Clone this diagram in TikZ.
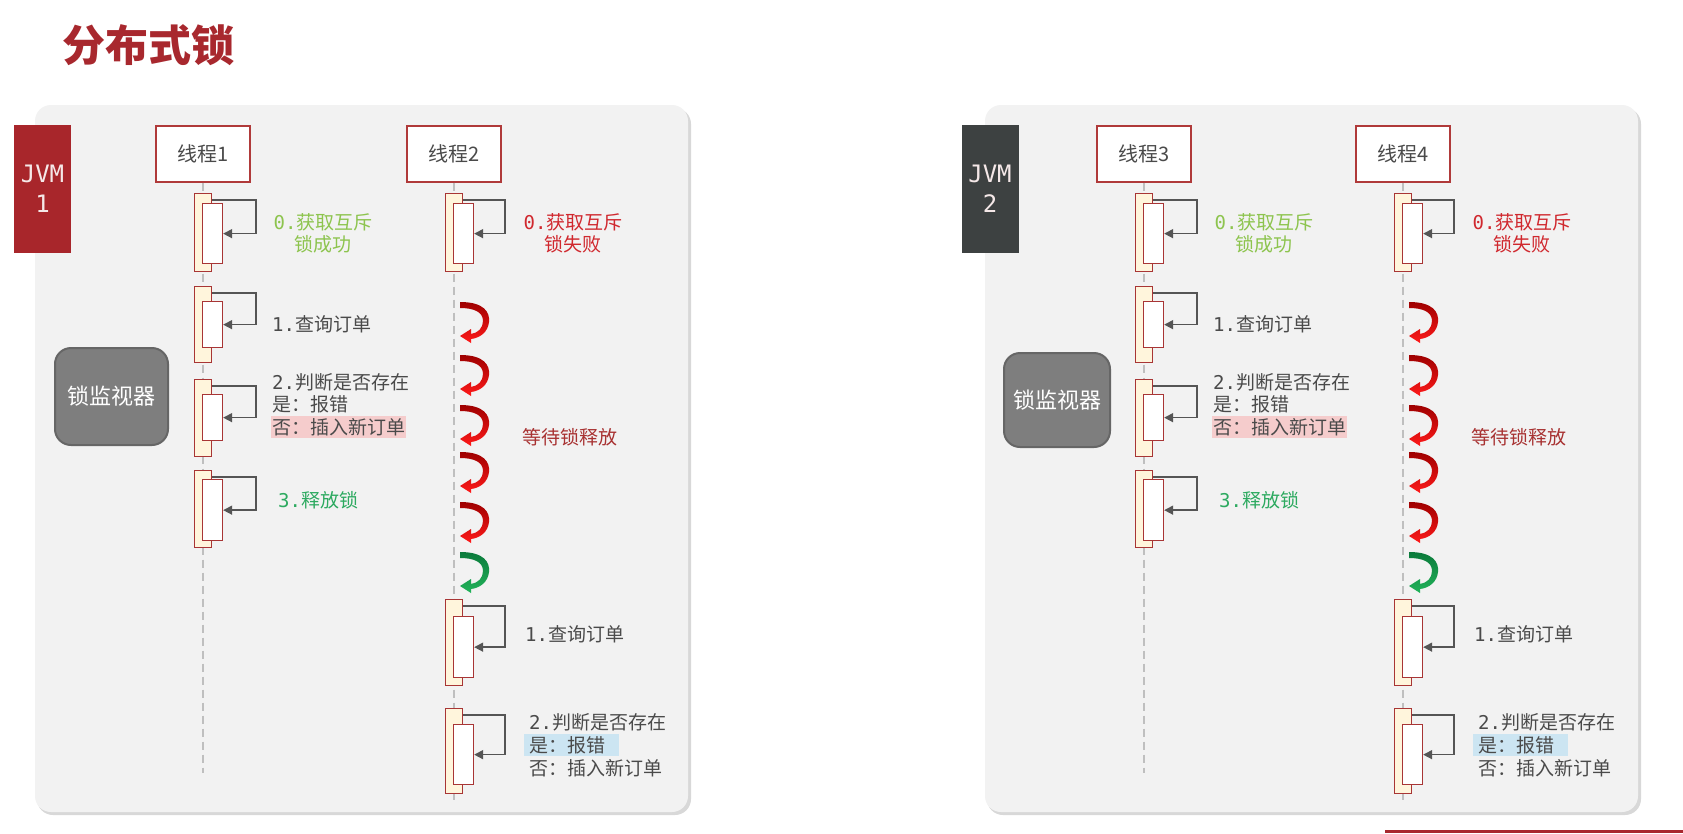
\documentclass[tikz,border=0pt]{standalone}
\usepackage{fontspec}
\setmainfont{Noto Sans CJK SC}
\newfontfamily\mono{DejaVu Sans Mono}
\usetikzlibrary{arrows.meta}
\definecolor{panelc}{HTML}{F2F2F2}
\definecolor{shadowc}{HTML}{D8D8D8}
\definecolor{boxred}{HTML}{B03A3A}
\definecolor{barred}{HTML}{A83535}
\definecolor{cream}{HTML}{FFF5DC}
\definecolor{arrgray}{HTML}{555555}
\definecolor{lifegray}{HTML}{BFBFBF}
\definecolor{txtgray}{HTML}{4A4A4A}
\definecolor{litegreen}{HTML}{8DC44E}
\definecolor{darkgreen}{HTML}{2DAA60}
\definecolor{failred}{HTML}{D0282E}
\definecolor{waitred}{HTML}{A83232}
\definecolor{pinkhl}{HTML}{F5CCCC}
\definecolor{bluehl}{HTML}{CCE5F2}
\definecolor{titlered}{HTML}{A8282E}
\definecolor{jvmred}{HTML}{A8262B}
\definecolor{jvmgray}{HTML}{3D4141}
\definecolor{jvmtxt}{HTML}{F5E8E8}
\definecolor{monfill}{HTML}{7E7E7E}
\definecolor{monedge}{HTML}{666666}
\definecolor{arrdark}{HTML}{9E0000}
\definecolor{arrlight}{HTML}{FF1A1A}
\definecolor{grndark}{HTML}{0B7A3B}
\definecolor{grnlight}{HTML}{22B35A}

\newcommand\actbar[7]{%
  \node[outerbar, minimum height={#4-#3}, anchor=north] (#1o) at (#2,#3) {};
  \node[innerbar, minimum height={#6-#5}, anchor=north] (#1i) at (#2+9.5,#5) {};
  \draw[selfarrow] ([yshift=-7pt]#1o.north east) -| ([xshift=#7pt]#1i.east) -- (#1i.east);
}
\newcommand\waitarr[4]{%
  \shade[top color=#3, bottom color=#4, shift={(#1,#2)}]
    (0,0) .. controls (24,0) and (30,10) .. (29,20)
    .. controls (28,30) and (20,36) .. (11,37)
    -- (11,41) -- (0,34) -- (11,27) -- (11,32)
    .. controls (18,31) and (23,26) .. (23,19)
    .. controls (23,10) and (14,6) .. (0,6) -- cycle;
}
\newcommand\lanes[5]{%
  % ---- thread A
  \node[thread] (#1tA) at (#2,154) {#4};
  \coordinate (#1eA) at (#2,773);
  \draw[lifeline] (#1tA) -- (#1eA);
  \actbar{#1a0}{#2}{193}{271}{203}{263}{33}
  \actbar{#1a1}{#2}{286}{362}{301}{347}{33}
  \actbar{#1a2}{#2}{379}{456}{394}{440}{33}
  \actbar{#1a3}{#2}{470}{547}{479}{540}{33}
  \node[lbl, text=litegreen, align=center] (#1okA) at (#2+120,233) {{\mono 0.}获取互斥\\锁成功};
  \node[lbl, anchor=west] (#1q1A) at (#2+69,324) {{\mono 1.}查询订单};
  \node[lbl, anchor=west] (#1j2A) at (#2+69,382) {{\mono 2.}判断是否存在};
  \node[lbl, anchor=west] (#1y2A) at (#2+69,404.5) {是：报错};
  \node[lbl, anchor=west, fill=pinkhl, inner xsep=1pt, inner ysep=2pt] (#1n2A) at (#2+68,427) {否：插入新订单};
  \node[lbl, anchor=west, text=darkgreen] (#1r3A) at (#2+75,500) {{\mono 3.}释放锁};
  % ---- thread B
  \node[thread] (#1tB) at (#3,154) {#5};
  \coordinate (#1eB) at (#3,800);
  \draw[lifeline] (#1tB) -- (#1eB);
  \actbar{#1b0}{#3}{193}{271}{203}{263}{31}
  \actbar{#1b1}{#3}{599}{685}{616}{677}{31}
  \actbar{#1b2}{#3}{708}{793}{724}{784}{31}
  \node[lbl, text=failred, align=center] (#1fB) at (#3+119,233) {{\mono 0.}获取互斥\\锁失败};
  \waitarr{#3+6}{302}{arrdark}{arrlight}
  \waitarr{#3+6}{355}{arrdark}{arrlight}
  \waitarr{#3+6}{405}{arrdark}{arrlight}
  \waitarr{#3+6}{452}{arrdark}{arrlight}
  \waitarr{#3+6}{502}{arrdark}{arrlight}
  \waitarr{#3+6}{552}{grndark}{grnlight}
  \node[lbl, anchor=west, text=waitred] (#1wB) at (#3+68,437) {等待锁释放};
  \node[lbl, anchor=west] (#1q1B) at (#3+71,634) {{\mono 1.}查询订单};
  \node[lbl, anchor=west] (#1j2B) at (#3+75,722) {{\mono 2.}判断是否存在};
  \node[lbl, anchor=west, fill=bluehl, inner xsep=5pt, inner ysep=2pt, text width=85pt] (#1y2B) at (#3+70,745) {是：报错};
  \node[lbl, anchor=west] (#1n2B) at (#3+75,768) {否：插入新订单};
}

\begin{document}
\begin{tikzpicture}[x=1pt, y=-1pt,
  thread/.style={draw=boxred, line width=1.4pt, fill=white, minimum width=94pt, minimum height=56pt, inner sep=0pt, font=\fontsize{20}{24}\selectfont, text=txtgray},
  outerbar/.style={draw=barred, line width=1.3pt, fill=cream, minimum width=17pt, inner sep=0pt},
  innerbar/.style={draw=barred, line width=1.3pt, fill=white, minimum width=20pt, inner sep=0pt},
  selfarrow/.style={draw=arrgray, line width=1.5pt, -{Triangle[length=9pt,width=9pt]}},
  lifeline/.style={draw=lifegray, line width=1.5pt, dash pattern=on 8pt off 5pt},
  lbl/.style={font=\fontsize{19}{22}\selectfont, inner sep=0pt, text=txtgray},
  jvmbox/.style={minimum width=57pt, minimum height=128pt, inner sep=0pt, align=center, text=jvmtxt, font=\mono\fontsize{24}{30}\selectfont},
  monitor/.style={rounded corners=16pt, fill=monfill, draw=monedge, line width=2pt, text=white, inner sep=0pt, font=\fontsize{22}{26}\selectfont},
  panel/.style={fill=panelc, rounded corners=16pt},
  shadowbox/.style={fill=shadowc, rounded corners=16pt}]
\useasboundingbox (0,0) rectangle (1683,833);
\fill[white] (0,0) rectangle (1683,833);

% title
\node[anchor=west, inner sep=0pt, text=titlered, font=\fontsize{43}{46}\selectfont\bfseries] (title) at (62,45) {分布式锁};

% panels
\fill[shadowbox] (37,108) rectangle (691,815);
\fill[panel] (35,105) rectangle (688,812);
\fill[shadowbox] (987,108) rectangle (1641,815);
\fill[panel] (985,105) rectangle (1638,812);

% JVM boxes
\node[jvmbox, fill=jvmred] (jvm1) at (42.5,189) {JVM\\1};
\node[jvmbox, fill=jvmgray] (jvm2) at (990,189) {JVM\\2};

% lock monitors
\node[monitor, minimum width=113pt, minimum height=97pt] (mon1) at (111.5,396.5) {锁监视器};
\node[monitor, minimum width=106pt, minimum height=94pt] (mon2) at (1057,400) {锁监视器};

% lanes
\lanes{L}{203}{454}{线程1}{线程2}
\lanes{R}{1144}{1403}{线程3}{线程4}

% bottom bar
\fill[titlered] (1385,830) rectangle (1683,833);
\end{tikzpicture}
\end{document}
